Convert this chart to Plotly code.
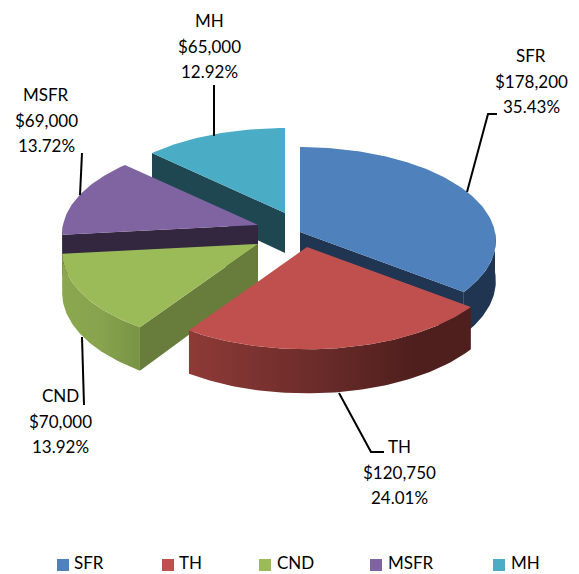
import math
import plotly.graph_objects as go

# ---- data ----
categories = ["SFR", "TH", "CND", "MSFR", "MH"]
values = [178200, 120750, 70000, 69000, 65000]

# ---- style / geometry ----
top_colors = ["#4F81BD", "#C0504D", "#9BBB59", "#8064A2", "#4BACC6"]
face_colors = ["#1F3552", "#4E1F1D", "#687D3B", "#33273F", "#1F4752"]
wall_gradients = [
    [[0, "#1F3552"], [1, "#1F3552"]],
    [[0, "#8E3A37"], [0.45, "#6B2C2A"], [0.8, "#4E1F1D"], [1, "#4E1F1D"]],
    [[0, "#8BA74F"], [0.5, "#87A34D"], [1, "#799345"]],
    [[0, "#33273F"], [1, "#33273F"]],
    [[0, "#1F4752"], [1, "#1F4752"]],
]
centres = [(300, 232), (307, 247), (258, 244), (258, 225), (285, 213)]
draw_order = [4, 3, 0, 2, 1]
R, TILT, PERSP, DEPTH = 195, 0.476, 0.0926, 40
label_xy = [(531, 81), (399, 472), (60, 421), (46, 120), (209, 46)]
LINE_GAP = 25.5
leaders = [
    [(467, 192), (488, 114), (497, 114)],
    [(339, 393), (371, 452), (384, 452)],
    [(82, 337), (84, 405)],
    [(82, 153), (80, 195)],
    [(214, 85), (214, 136)],
]
legend_key_x = [63, 168, 265, 376, 499]
legend_text_x = [73, 178, 276, 387, 510]
LEGEND_TEXT_Y = 562.5
LEGEND_KEY_Y = 565
FONT = "Lato"


def proj(c, th, z=0.0):
    a = math.radians(th)
    X, Y = math.sin(a), -math.cos(a)
    s = 1 / (1 - PERSP * Y)
    return c[0] + R * X * s, c[1] + R * TILT * Y * s + z * s


def arc(c, a0, a1, z=0.0):
    n = max(2, int(abs(a1 - a0)) + 1)
    return [proj(c, a0 + (a1 - a0) * i / (n - 1), z) for i in range(n)]


def centre_pt(c, z=0.0):
    return c[0], c[1] + z


def poly(pts, **kw):
    xs = [p[0] for p in pts] + [pts[0][0]]
    ys = [p[1] for p in pts] + [pts[0][1]]
    return go.Scatter(x=xs, y=ys, mode="lines", fill="toself", line=dict(width=0),
                      hoverinfo="skip", showlegend=False, **kw)


total = sum(values)
starts = []
acc = 0.0
for v in values:
    starts.append(acc / total * 360)
    acc += v
ends = [s + v / total * 360 for s, v in zip(starts, values)]

fig = go.Figure()
for i in draw_order:
    c, a0, a1 = centres[i], starts[i], ends[i]
    # radial faces, only those turned toward the viewer
    for th, visible in ((a0, math.sin(math.radians(a0)) < -1e-6),
                        (a1, math.sin(math.radians(a1)) > 1e-6)):
        if visible:
            p = proj(c, th)
            q = proj(c, th, DEPTH)
            fig.add_trace(poly([centre_pt(c), p, q, centre_pt(c, DEPTH)], fillcolor=face_colors[i]))
    # outer wall, front half only
    w0, w1 = max(a0, 90), min(a1, 270)
    if w1 > w0:
        pts = arc(c, w0, w1) + arc(c, w1, w0, DEPTH)
        fig.add_trace(poly(pts, fillgradient=dict(type="horizontal", colorscale=wall_gradients[i])))
    # top surface
    fig.add_trace(poly([centre_pt(c)] + arc(c, a0, a1), fillcolor=top_colors[i]))

# leader lines
for path in leaders:
    fig.add_trace(go.Scatter(x=[p[0] for p in path], y=[p[1] for p in path], mode="lines",
                             line=dict(color="black", width=2), hoverinfo="skip", showlegend=False))

# labels: three separately placed lines, to keep the reference's line spacing
annotations = []
for name, v, (lx, ly) in zip(categories, values, label_xy):
    lines = [name, f"${v:,}", f"{v / total * 100:.2f}%"]
    for n, line in enumerate(lines):
        annotations.append(dict(x=lx, y=ly + (n - 1) * LINE_GAP, xref="x", yref="y", showarrow=False,
                                text=line, align="center", xanchor="center", yanchor="middle",
                                font=dict(family=FONT, size=17, color="black")))

# legend row: the key-to-text gap of the reference is narrower than a native legend allows
for name, col, kx, tx in zip(categories, top_colors, legend_key_x, legend_text_x):
    fig.add_trace(go.Scatter(x=[kx], y=[LEGEND_KEY_Y], mode="markers", name=name, hoverinfo="name",
                             showlegend=False, marker=dict(symbol="square", size=12, color=col)))
    annotations.append(dict(x=tx, y=LEGEND_TEXT_Y, xref="x", yref="y", showarrow=False, text=name,
                            xanchor="left", yanchor="middle", borderpad=0,
                            font=dict(family=FONT, size=17, color="black")))

fig.update_layout(
    width=579, height=574, margin=dict(l=0, r=0, t=0, b=0, autoexpand=False), autosize=False,
    paper_bgcolor="white", plot_bgcolor="white", showlegend=False,
    xaxis=dict(range=[0, 579], visible=False, fixedrange=True),
    yaxis=dict(range=[574, 0], visible=False, fixedrange=True),
    annotations=annotations,
)
fig.write_html("out.html", post_script="document.body.style.margin='0';", config={"displayModeBar": False})
